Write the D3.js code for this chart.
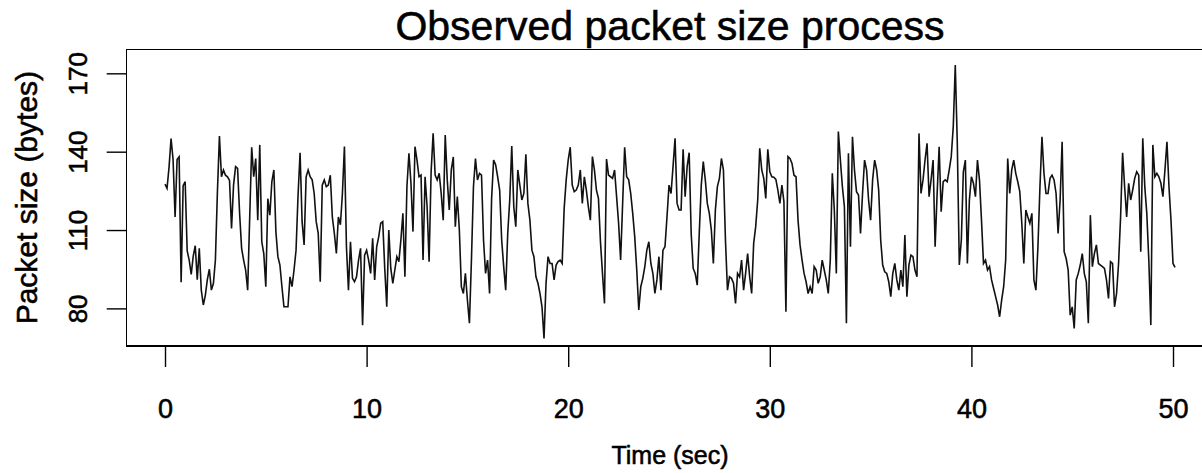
<!DOCTYPE html>
<html>
<head>
<meta charset="utf-8">
<script src="https://cdn.jsdelivr.net/npm/d3@7"></script>
<style>
  body { margin: 0; background: #fff; }
  svg { display: block; }
  text { font-family: "Liberation Sans", Arial, sans-serif; fill: #000; stroke: #000; stroke-width: 0.55; }
</style>
</head>
<body>
<svg width="1202" height="473"></svg>
<script>
'use strict';

// packet size (bytes) observed every 0.1 sec, starting at t = 0
const time_step = 0.1;
const packet_size = [
  127.6, 126, 134, 145, 137, 115, 137, 138, 90, 127, 128.5, 102, 98.5, 93, 100, 104, 91, 103, 87, 81.3,
  85, 91, 95, 87, 89.5, 98.5, 124.7, 146, 130.4, 133, 131, 130.4, 129, 110.6, 127.2, 134.3, 133.6, 116.4, 103, 98.5,
  94.7, 87, 114.5, 141.7, 130.4, 137.4, 113.8, 142.6, 105.5, 101, 88.3, 122, 115.7, 128.5, 133, 109.4, 99.8, 96.6, 88.3, 80.6,
  80.6, 80.6, 92.1, 88.3, 94.7, 102.3, 123.4, 139.6, 113.2, 104.3, 130.4, 133, 130.4, 129.2, 124, 113.2, 108.7, 90.2, 127.2, 129.2,
  126.6, 127.2, 131, 115, 108.7, 101, 115, 112, 124, 142, 103.6, 87, 105.5, 91.5, 90.2, 92.1, 98.5, 103, 73.6, 100.4,
  102.3, 98.5, 93.4, 106.8, 90.9, 103.6, 107.4, 112.6, 113.2, 95.3, 80.6, 110, 95.3, 89.6, 94.7, 99.8, 97.9, 106.2, 116.4, 92.1,
  126.6, 139.4, 127.9, 109.4, 141.9, 136.8, 130.4, 131, 98.5, 130.4, 119, 97.9, 132.3, 147, 131, 129.2, 131.7, 124, 113.8, 146.4,
  129.2, 117.7, 133, 138, 111.3, 122.8, 110, 88.3, 85.7, 93.4, 83.2, 74.3, 98.5, 126.6, 137.4, 129.2, 131.7, 131, 106.2, 93.4,
  98.5, 85.7, 122, 136.8, 135, 130.4, 125.3, 106.2, 96, 87, 108.7, 121.5, 142.2, 119, 111.3, 133, 127.2, 121.5, 124, 139,
  120.2, 113.8, 102.3, 99.8, 92.1, 89.6, 85.7, 80.6, 68.5, 89.6, 99.8, 97.2, 97.2, 90.9, 96.6, 97.9, 98.5, 97.2, 118.3, 129.2,
  136.8, 141.7, 127.2, 124.7, 125.3, 127.2, 133, 120.2, 130.4, 125.3, 118.9, 113.8, 138.1, 133, 125.3, 122.1, 105.5, 93.4, 81.9, 137.2,
  131, 130.4, 129.8, 133, 122.8, 112.6, 98.5, 120.2, 141.7, 130.4, 129.2, 124, 116.4, 107.4, 94.7, 79.4, 88.3, 91.5, 96, 102.3,
  105.5, 97.2, 93.4, 85.7, 90.9, 99.8, 87, 102.3, 103.6, 115, 127.2, 124, 134.3, 145.1, 120.2, 117.7, 117.7, 140.9, 122.8, 134.3,
  139.6, 108.7, 95.3, 93.4, 88.9, 108.7, 127.2, 136.2, 129.2, 120.2, 116.4, 110, 97.2, 117.7, 126.6, 129.8, 137.4, 133, 106.2, 87,
  92.1, 91.5, 89.6, 81.9, 93.4, 92.1, 98.5, 87, 93.4, 101, 92.1, 85.7, 104.9, 111.3, 121.5, 141.3, 133, 129.8, 122.1, 140.9,
  132.3, 130.4, 130.2, 129.4, 125.3, 120.2, 127.2, 120.9, 78.7, 138.1, 137.4, 135.5, 131, 130.4, 113.8, 104.3, 98.5, 93.4, 90.2, 85.7,
  88.3, 85.7, 96, 94.7, 89.6, 92.1, 98.5, 94.7, 90.9, 85.7, 98.5, 131.7, 117.7, 93.4, 147.7, 136.8, 126.6, 118.9, 74.3, 139.4,
  103.6, 145.7, 133, 124.7, 123.4, 108.7, 124, 136.8, 133, 121.5, 113.8, 129.2, 136.8, 133, 125.3, 106.2, 96.6, 94, 93.4, 90.2,
  84.5, 93.4, 97.2, 90.9, 87, 94.7, 88.3, 108.1, 84.5, 96.6, 100.4, 99.8, 94.7, 92.1, 147, 124, 129.2, 136.8, 143.2, 122.8,
  129.2, 136.8, 103.6, 124, 141.9, 117, 128.5, 129.2, 128.5, 133, 138.1, 149.6, 173.2, 143.2, 96.6, 106.2, 132.3, 136.8, 97.2, 121.5,
  130.4, 127.9, 122.8, 136.8, 129.2, 113.8, 97.2, 98.5, 94.7, 96, 90.9, 87.7, 84.5, 81.3, 76.8, 83.2, 88.3, 98.5, 137.4, 124,
  133, 136.8, 131.7, 128.5, 124.7, 112.6, 97.2, 117.7, 115, 112.6, 116.4, 90.9, 87, 103.6, 126.6, 145.7, 131.7, 124, 124, 129.8,
  131, 129.2, 124, 108.7, 121.5, 143.8, 101.7, 99.1, 94.7, 77.4, 80.6, 72.3, 90.9, 93.4, 96.6, 101, 93.4, 90.2, 74.3, 115.7,
  96, 101, 104.3, 97.2, 96.6, 96, 95.3, 90.9, 83.8, 97.9, 97.2, 80.6, 85.7, 97.2, 115, 139.6, 126.6, 115, 127.9, 121.5,
  125.3, 129.8, 132.3, 131, 101.7, 145.1, 126.6, 116.4, 98.5, 73.6, 142.6, 130.4, 131.7, 130.4, 127.9, 122.8, 133, 143.8, 126.6, 113.8,
  97.2, 95.7
];
const x_ticks = [0, 10, 20, 30, 40, 50];
const y_ticks = [80, 110, 140, 170];

const svg = d3.select('svg');

const frame = {left: 126.7, top: 49.3, bottom: 346};
const px_per_sec = 20.16;

const x_scale = d3.scaleLinear()
  .domain([-1.9, 52])
  .range([frame.left, frame.left + 53.9 * px_per_sec]);

const y_scale = d3.scaleLinear()
  .domain([65.6, 179.2])
  .range([frame.bottom, frame.top]);

const series = packet_size.map((v, i) => ({t: i * time_step, v: v}));

//plot frame
svg.append('rect')
  .attr('x', frame.left)
  .attr('y', frame.top)
  .attr('width', x_scale.range()[1] - frame.left)
  .attr('height', frame.bottom - frame.top)
  .attr('fill', 'none')
  .attr('stroke', '#000')
  .attr('stroke-width', 1.4)
  .attr('shape-rendering', 'crispEdges');

//series line
const line = d3.line()
  .x(d => x_scale(d.t))
  .y(d => y_scale(d.v));

svg.append('path')
  .datum(series)
  .attr('d', line)
  .attr('fill', 'none')
  .attr('stroke', '#111')
  .attr('stroke-width', 1.6)
  .attr('stroke-linejoin', 'miter');

//bottom axis
const x_axis = svg.append('g')
  .attr('transform', `translate(0,${frame.bottom})`)
  .call(d3.axisBottom(x_scale).tickValues(x_ticks).tickSize(21).tickFormat(d3.format('d')));
x_axis.select('.domain').remove();
x_axis.selectAll('line').attr('stroke', '#000').attr('stroke-width', 1.4);
x_axis.selectAll('text')
  .attr('y', 72)
  .attr('dy', 0)
  .attr('font-size', 27)
  .attr('fill', '#000');

//left axis, labels turned as in R
const y_axis = svg.append('g')
  .attr('transform', `translate(${frame.left},0)`)
  .call(d3.axisLeft(y_scale).tickValues(y_ticks).tickSize(20));
y_axis.select('.domain').remove();
y_axis.selectAll('line').attr('stroke', '#000').attr('stroke-width', 1.4);
y_axis.selectAll('text')
  .attr('transform', 'rotate(-90)')
  .attr('x', 0)
  .attr('y', -40)
  .attr('dy', 0)
  .attr('text-anchor', 'middle')
  .attr('font-size', 26)
  .attr('fill', '#000');

//titles
const mid_x = (x_scale.range()[0] + x_scale.range()[1]) / 2;
svg.append('text')
  .attr('x', mid_x)
  .attr('y', 40)
  .attr('text-anchor', 'middle')
  .attr('font-size', 41)
  .text('Observed packet size process');

svg.append('text')
  .attr('x', mid_x)
  .attr('y', 464)
  .attr('text-anchor', 'middle')
  .attr('font-size', 25)
  .text('Time (sec)');

svg.append('text')
  .attr('transform', `translate(36.7,${(frame.top + frame.bottom) / 2}) rotate(-90)`)
  .attr('text-anchor', 'middle')
  .attr('font-size', 30)
  .text('Packet size (bytes)');
</script>
</body>
</html>
